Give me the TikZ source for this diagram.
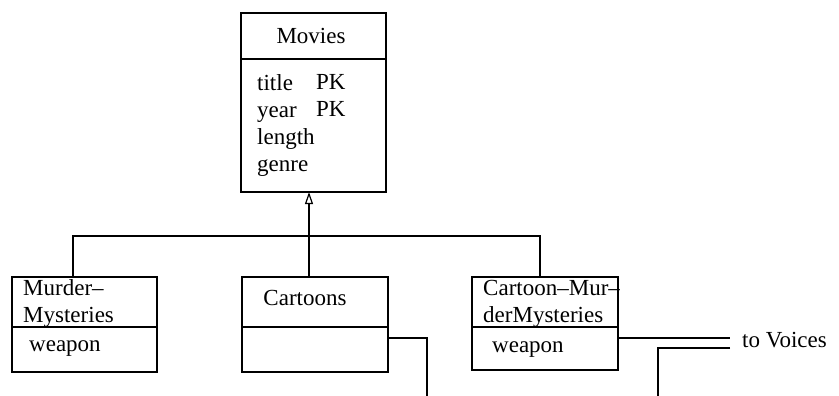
\documentclass[tikz,border=0pt]{standalone}
\usepackage{fontspec}
\setmainfont{Liberation Serif}
\usetikzlibrary{arrows.meta}
\begin{document}
\begin{tikzpicture}[x=1pt,y=-1pt,
  box/.style={draw, line width=1.3pt, anchor=north west, inner sep=0pt, outer sep=0pt},
  txt/.style={inner sep=0pt, font=\fontsize{23}{27}\selectfont, align=left},
  conn/.style={line width=1.3pt},
  inh/.style={line width=1.3pt, -{Triangle[open, width=8pt, length=12pt, line width=1.2pt]}}]
\useasboundingbox (0,0) rectangle (839,396);
% boxes
\node[box, minimum width=145pt, minimum height=179pt] (movies) at (241,13) {};
\node[box, minimum width=145pt, minimum height=95pt] (mm) at (12,277) {};
\node[box, minimum width=146pt, minimum height=95pt] (cart) at (242,277) {};
\node[box, minimum width=146pt, minimum height=93pt] (cmm) at (472,277) {};
% separators
\draw[conn] (movies.west |- 0,59) -- (movies.east |- 0,59);
\draw[conn] (mm.west |- 0,327) -- (mm.east |- 0,327);
\draw[conn] (cart.west |- 0,327) -- (cart.east |- 0,327);
\draw[conn] (cmm.west |- 0,327) -- (cmm.east |- 0,327);
% texts
\node[txt] (tmovies) at (311,36) {Movies};
\node[txt, anchor=north west] (tattr) at (257,74) {title\\year\\length\\genre};
\node[txt, anchor=north west] (tpk) at (316,74) {PK\\PK};
\node[txt, anchor=west] (tmm) at (23,304) {Murder–\\Mysteries};
\node[txt, anchor=west] (tmmw) at (29,349) {weapon};
\node[txt] (tcart) at (305,298) {Cartoons};
\node[txt, anchor=west] (tcmm) at (483,304) {Cartoon–Mur–\\derMysteries};
\node[txt, anchor=west] (tcmmw) at (492,350) {weapon};
\node[txt, anchor=west] (voices) at (742,340) {to Voices};
% inheritance
\coordinate (j) at (309,236);
\coordinate (jl) at (73,236);
\coordinate (jr) at (540,236);
\draw[inh] (j) -- (movies.south -| j);
\draw[conn] (j) -- (cart.north -| j);
\draw[conn] (mm.north -| jl) -- (jl) -- (jr) -- (cmm.north -| jr);
% relationships to Voices
\coordinate (c1) at (427,338);
\coordinate (c1b) at (427,396);
\draw[conn] (cart.east |- c1) -- (c1) -- (c1b);
\coordinate (v1) at (730,338);
\draw[conn] (cmm.east |- v1) -- (v1);
\coordinate (v2) at (730,348);
\coordinate (v2a) at (658,348);
\coordinate (v2b) at (658,396);
\draw[conn] (v2) -- (v2a) -- (v2b);
\end{tikzpicture}
\end{document}
